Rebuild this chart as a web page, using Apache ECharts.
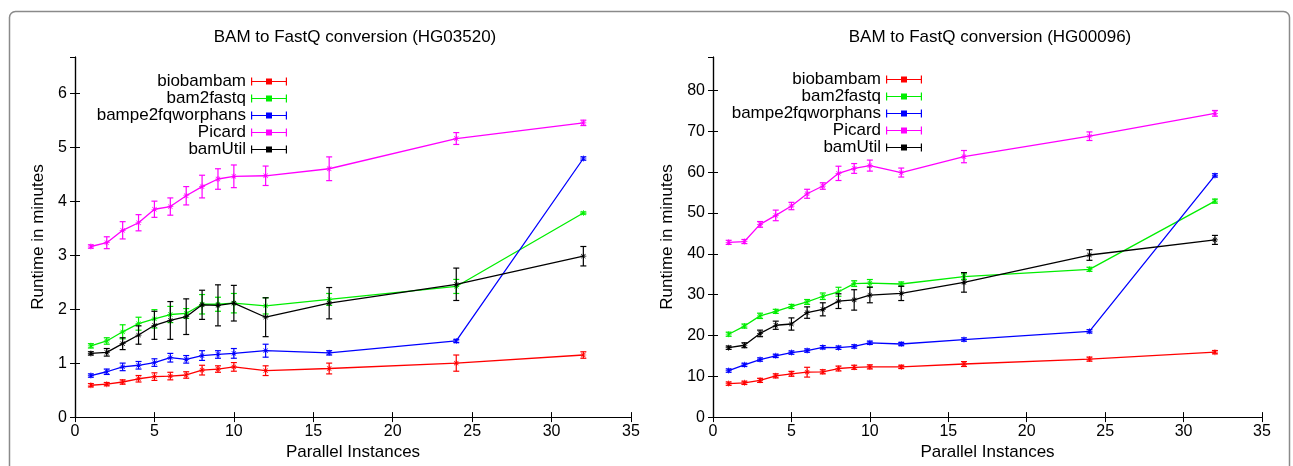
<!DOCTYPE html>
<html>
<head>
<meta charset="utf-8">
<script src="https://cdn.jsdelivr.net/npm/echarts@6/dist/echarts.min.js"></script>
<style>
  html, body { margin: 0; padding: 0; background: #fff; }
  #chart { width: 1293px; height: 466px; }
</style>
</head>
<body>
<div id="chart"></div>
<script>
// parallel instances (x axis)
const xs = [1, 2, 3, 4, 5, 6, 7, 8, 9, 10, 12, 16, 24, 32];
const names = ['biobambam', 'bam2fastq', 'bampe2fqworphans', 'Picard', 'bamUtil'];
const colors = ['#ff0000', '#00ee00', '#0000ff', '#ff00ff', '#000000'];

// HG03520 (left panel), minutes
const l_bio    = [0.59, 0.61, 0.65, 0.71, 0.75, 0.76, 0.78, 0.87, 0.89, 0.93, 0.86, 0.90, 1.00, 1.15];
const l_bioErr = [0.03, 0.03, 0.04, 0.06, 0.07, 0.07, 0.06, 0.09, 0.06, 0.08, 0.09, 0.10, 0.15, 0.06];
const l_b2f    = [1.32, 1.41, 1.58, 1.73, 1.82, 1.90, 1.92, 2.09, 2.09, 2.11, 2.06, 2.18, 2.42, 3.78];
const l_b2fErr = [0.04, 0.06, 0.13, 0.12, 0.17, 0.15, 0.09, 0.18, 0.13, 0.18, 0.15, 0.11, 0.13, 0.02];
const l_bpe    = [0.77, 0.84, 0.93, 0.96, 1.01, 1.10, 1.07, 1.14, 1.16, 1.18, 1.23, 1.19, 1.41, 4.79];
const l_bpeErr = [0.03, 0.05, 0.07, 0.07, 0.07, 0.08, 0.07, 0.09, 0.07, 0.09, 0.12, 0.04, 0.03, 0.03];
const l_pic    = [3.16, 3.23, 3.46, 3.60, 3.85, 3.90, 4.10, 4.27, 4.41, 4.46, 4.47, 4.60, 5.16, 5.45];
const l_picErr = [0.03, 0.11, 0.16, 0.15, 0.15, 0.16, 0.17, 0.21, 0.19, 0.21, 0.18, 0.22, 0.11, 0.05];
const l_bu     = [1.18, 1.20, 1.36, 1.52, 1.70, 1.79, 1.86, 2.08, 2.07, 2.11, 1.85, 2.11, 2.46, 2.98];
const l_buErr  = [0.03, 0.07, 0.11, 0.17, 0.26, 0.35, 0.33, 0.27, 0.38, 0.33, 0.36, 0.29, 0.30, 0.18];

// HG00096 (right panel), minutes
const r_bio    = [8.2, 8.4, 9.0, 10.1, 10.6, 11.0, 11.1, 11.9, 12.2, 12.3, 12.3, 13.0, 14.2, 15.9];
const r_bioErr = [0.4, 0.4, 0.5, 0.5, 0.6, 1.2, 0.5, 0.6, 0.5, 0.5, 0.4, 0.6, 0.5, 0.4];
const r_b2f    = [20.3, 22.3, 24.8, 25.9, 27.1, 28.2, 29.6, 30.7, 32.7, 32.8, 32.6, 34.4, 36.2, 52.9];
const r_b2fErr = [0.5, 0.5, 0.65, 0.5, 0.5, 0.6, 0.8, 1.1, 0.7, 0.9, 0.5, 0.7, 0.5, 0.5];
const r_bpe    = [11.4, 12.8, 14.1, 15.0, 15.8, 16.3, 17.1, 17.0, 17.3, 18.2, 17.9, 19.0, 21.0, 59.2];
const r_bpeErr = [0.4, 0.4, 0.4, 0.4, 0.4, 0.4, 0.4, 0.4, 0.4, 0.4, 0.4, 0.4, 0.4, 0.4];
const r_pic    = [42.8, 43.0, 47.2, 49.4, 51.7, 54.7, 56.6, 59.7, 60.9, 61.6, 59.9, 63.8, 68.8, 74.4];
const r_picErr = [0.5, 0.5, 0.7, 1.3, 0.9, 1.1, 0.8, 1.75, 1.2, 1.35, 1.1, 1.5, 1.05, 0.7];
const r_bu     = [17.0, 17.6, 20.5, 22.5, 22.8, 25.6, 26.4, 28.4, 28.7, 29.9, 30.3, 33.0, 39.7, 43.4];
const r_buErr  = [0.4, 0.6, 0.8, 1.0, 1.5, 1.4, 1.6, 1.8, 2.5, 1.9, 1.75, 2.4, 1.3, 1.1];

const leftVals = [l_bio, l_b2f, l_bpe, l_pic, l_bu];
const leftErrs = [l_bioErr, l_b2fErr, l_bpeErr, l_picErr, l_buErr];
const rightVals = [r_bio, r_b2f, r_bpe, r_pic, r_bu];
const rightErrs = [r_bioErr, r_b2fErr, r_bpeErr, r_picErr, r_buErr];

const font = 'Liberation Sans';
const star = 'path://M4.4,0h1.2v10h-1.2z M0,4.4h10v1.2h-10z M1,1.8 L1.8,1 L9,8.2 L8.2,9z M8.2,1 L9,1.8 L1.8,9 L1,8.2z';
const legendIcon = 'path://M0,3.4H36V4.6H0Z M0,0H1.2V8H0Z M34.8,0H36V8H34.8Z M15,1H21V7H15Z';

function renderErr(params, api) {
  const x = api.value(0), y = api.value(1), e = api.value(2);
  const lo = api.coord([x, y - e]);
  const hi = api.coord([x, y + e]);
  const w = 3;
  const style = { stroke: api.visual('color'), lineWidth: 1.2 };
  return {
    type: 'group',
    children: [
      { type: 'line', shape: { x1: lo[0], y1: lo[1], x2: hi[0], y2: hi[1] }, style: style },
      { type: 'line', shape: { x1: lo[0] - w, y1: lo[1], x2: lo[0] + w, y2: lo[1] }, style: style },
      { type: 'line', shape: { x1: hi[0] - w, y1: hi[1], x2: hi[0] + w, y2: hi[1] }, style: style }
    ]
  };
}

function panelSeries(vals, errs, xi, yi) {
  const out = [];
  names.forEach(function (name, i) {
    out.push({
      name: name,
      type: 'line',
      xAxisIndex: xi,
      yAxisIndex: yi,
      data: xs.map(function (x, j) { return [x, vals[i][j]]; }),
      symbol: star,
      symbolSize: 6,
      showSymbol: true,
      lineStyle: { color: colors[i], width: 1.3 },
      itemStyle: { color: colors[i] },
      z: 2 + i,
      animation: false
    });
    out.push({
      name: name,
      type: 'custom',
      xAxisIndex: xi,
      yAxisIndex: yi,
      renderItem: renderErr,
      encode: { x: 0, y: 1 },
      itemStyle: { color: colors[i] },
      data: xs.map(function (x, j) { return [x, vals[i][j], errs[i][j]]; }),
      z: 2 + i,
      animation: false
    });
  });
  return out;
}

function xAx(grid, top) {
  return {
    type: 'value', gridIndex: grid, position: top ? 'top' : 'bottom',
    min: 0, max: 35, interval: 5,
    axisLine: { show: true, lineStyle: { color: '#000', width: 1.2 } },
    axisTick: { show: true, inside: true, length: 5, lineStyle: { color: '#000' } },
    axisLabel: { show: !top, color: '#000', fontSize: 16, fontFamily: font, margin: 6 },
    splitLine: { show: false },
    name: top ? '' : 'Parallel Instances',
    nameLocation: 'middle', nameGap: 26,
    nameTextStyle: { color: '#000', fontSize: 17, fontFamily: font }
  };
}

function yAx(grid, right, max, step, gap) {
  return {
    type: 'value', gridIndex: grid, position: right ? 'right' : 'left',
    min: 0, max: max, interval: step,
    axisLine: { show: true, lineStyle: { color: '#000', width: 1.2 } },
    axisTick: { show: true, inside: true, length: 5, lineStyle: { color: '#000' } },
    axisLabel: { show: !right, color: '#000', fontSize: 16, fontFamily: font, margin: 8, showMaxLabel: false },
    splitLine: { show: false },
    name: right ? '' : 'Runtime in minutes',
    nameLocation: 'middle', nameGap: gap,
    nameTextStyle: { color: '#000', fontSize: 17, fontFamily: font }
  };
}

function legendFor(right, top) {
  return {
    data: names,
    orient: 'vertical',
    align: 'right',
    right: right,
    top: top,
    itemWidth: 36,
    itemHeight: 8,
    itemGap: 0,
    icon: legendIcon,
    textStyle: { color: '#000', fontSize: 17, fontFamily: font, lineHeight: 17 },
    selectedMode: false
  };
}

const chart = echarts.init(document.getElementById('chart'));
chart.setOption({
  backgroundColor: '#fff',
  animation: false,
  title: [
    { text: 'BAM to FastQ conversion (HG03520)', left: 350, top: 24, textAlign: 'center',
      textStyle: { color: '#000', fontSize: 17, fontWeight: 'normal', fontFamily: font } },
    { text: 'BAM to FastQ conversion (HG00096)', left: 985, top: 24, textAlign: 'center',
      textStyle: { color: '#000', fontSize: 17, fontWeight: 'normal', fontFamily: font } }
  ],
  legend: [legendFor(1001, 68), legendFor(366, 66)],
  grid: [
    { left: 75, top: 57, width: 556, height: 361 },
    { left: 713, top: 57, width: 549, height: 361 }
  ],
  xAxis: [xAx(0, false), xAx(0, true), xAx(1, false), xAx(1, true)],
  yAxis: [yAx(0, false, 6.67, 1, 28), yAx(0, true, 6.67, 1, 28), yAx(1, false, 88.2, 10, 37), yAx(1, true, 88.2, 10, 37)],
  graphic: [{
    type: 'rect', silent: true,
    shape: { x: 9.5, y: 11.5, width: 1280, height: 470, r: 6 },
    style: { fill: 'none', stroke: '#8a8a8a', lineWidth: 1.5 }
  }],
  series: panelSeries(leftVals, leftErrs, 0, 0).concat(panelSeries(rightVals, rightErrs, 2, 2))
});
</script>
</body>
</html>
